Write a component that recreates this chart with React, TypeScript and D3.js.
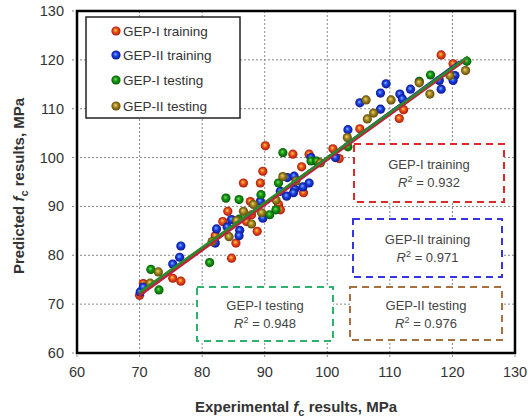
import React from 'react';
import * as d3 from 'd3';

const xTicks = [60, 70, 80, 90, 100, 110, 120, 130];
const yTicks = [60, 70, 80, 90, 100, 110, 120, 130];

// GEP-I training
const gep1TrainX = [70.0, 70.6, 75.3, 76.6, 84.7, 85.4, 82.1, 88.8, 84.1, 87.7, 92.2, 92.5, 86.6, 89.3, 89.7, 90.1, 94.5, 97.1, 100.9, 95.9, 101.9, 105.2, 112.2, 111.5, 118.2, 120.1, 83.3, 87.1, 87.9, 96.2];
const gep1TrainY = [71.8, 74.2, 75.3, 74.7, 79.4, 82.5, 84.0, 84.9, 89.0, 91.0, 90.4, 89.3, 94.8, 94.8, 97.2, 102.4, 100.7, 100.7, 101.8, 98.1, 99.8, 105.9, 109.8, 108.0, 121.0, 119.2, 86.9, 86.9, 88.3, 92.8];
// GEP-II training
const gep2TrainX = [70.1, 70.6, 75.3, 76.4, 76.6, 82.1, 82.3, 84.0, 86.0, 85.9, 84.7, 89.3, 89.7, 92.5, 93.5, 93.6, 94.7, 94.8, 96.1, 97.1, 94.6, 97.4, 101.3, 103.3, 105.2, 108.5, 109.4, 111.6, 112.0, 108.5, 113.3, 117.9, 118.2, 120.4, 120.1];
const gep2TrainY = [72.5, 73.5, 78.2, 79.6, 81.9, 82.5, 85.4, 85.8, 85.1, 84.0, 87.3, 91.0, 87.6, 93.1, 92.1, 95.9, 96.2, 93.5, 94.0, 94.8, 92.8, 100.0, 100.0, 105.7, 111.2, 113.2, 115.1, 113.0, 112.0, 109.9, 114.0, 115.8, 114.0, 116.8, 115.8];
// GEP-I testing
const gep1TestX = [71.8, 73.1, 81.2, 83.8, 85.9, 89.4, 91.8, 90.8, 85.9, 92.9, 97.4, 98.3, 92.2, 103.3, 114.7, 116.5, 122.3];
const gep1TestY = [77.1, 72.9, 78.5, 91.7, 91.4, 92.4, 89.3, 88.3, 87.4, 101.0, 99.3, 99.3, 94.8, 102.2, 115.6, 116.9, 119.7];
// GEP-II testing
const gep2TestX = [71.7, 73.0, 81.6, 84.3, 85.5, 86.6, 87.9, 88.2, 89.5, 91.8, 92.9, 95.0, 98.9, 103.2, 106.2, 107.4, 106.4, 110.2, 114.7, 116.4, 119.6, 122.1];
const gep2TestY = [74.3, 76.6, 82.8, 83.8, 87.1, 89.0, 86.4, 90.4, 88.7, 91.3, 96.1, 95.2, 98.9, 104.1, 111.8, 109.1, 107.9, 111.8, 115.3, 113.0, 116.8, 117.8];

// trend lines [x0, x1], [y0, y1]
const fitRedX = [69.9, 122.0];
const fitRedY = [71.7, 119.9];
const fitBlueX = [70.0, 121.2];
const fitBlueY = [72.0, 119.7];
const fitBrownX = [70.0, 122.2];
const fitBrownY = [72.1, 120.3];
const fitGreenX = [69.9, 122.5];
const fitGreenY = [72.3, 120.7];

const legendLabels = ['GEP-I training', 'GEP-II training', 'GEP-I testing', 'GEP-II testing'];
const boxTitles = ['GEP-I training', 'GEP-II training', 'GEP-I testing', 'GEP-II testing'];
const boxR2 = ['0.932', '0.971', '0.948', '0.976'];

const FONT = '"Liberation Sans", Arial, sans-serif';

const gradients = [
  { id: 'gRed', c0: '#ffd24a', c1: '#e8561c', c2: '#b0140a' },
  { id: 'gBlue', c0: '#7cc0ff', c1: '#1f40e6', c2: '#0a1690' },
  { id: 'gGreen', c0: '#7fe060', c1: '#149a14', c2: '#075a07' },
  { id: 'gBrown', c0: '#f0d870', c1: '#a88a22', c2: '#5e4808' },
];

export default function App() {
  const W = 528, H = 420;
  const x = d3.scaleLinear().domain([60, 130]).range([77, 515]);
  const y = d3.scaleLinear().domain([60, 130]).range([353, 11]);

  const seriesList = [
    { xs: gep1TrainX, ys: gep1TrainY, grad: 'gRed' },
    { xs: gep2TrainX, ys: gep2TrainY, grad: 'gBlue' },
    { xs: gep1TestX, ys: gep1TestY, grad: 'gGreen' },
    { xs: gep2TestX, ys: gep2TestY, grad: 'gBrown' },
  ];
  const fits = [
    { xs: fitBlueX, ys: fitBlueY, color: '#2030c0' },
    { xs: fitBrownX, ys: fitBrownY, color: '#8a6a20' },
    { xs: fitRedX, ys: fitRedY, color: '#c02040' },
    { xs: fitGreenX, ys: fitGreenY, color: '#2a8a2a' },
  ];
  const line = d3.line<[number, number]>().x(d => x(d[0])).y(d => y(d[1]));

  const boxes = [
    { x0: 354, y0: 144, x1: 504, y1: 202, color: '#e02828' },
    { x0: 353, y0: 219, x1: 502, y1: 277, color: '#3434e0' },
    { x0: 197, y0: 287, x1: 333, y1: 341, color: '#2db36b' },
    { x0: 350, y0: 287, x1: 502, y1: 340, color: '#a8703c' },
  ];

  const [x0, x1] = x.range();
  const [y0, y1] = y.range();

  return (
    <svg width={W} height={H} style={{ position: 'absolute', left: 0, top: 0, background: '#fff' }} fontFamily={FONT}>
      <defs>
        {gradients.map(g => (
          <radialGradient key={g.id} id={g.id} cx="50%" cy="50%" r="50%" fx="42%" fy="38%">
            <stop offset="0%" stopColor={g.c0} />
            <stop offset="45%" stopColor={g.c1} />
            <stop offset="100%" stopColor={g.c2} />
          </radialGradient>
        ))}
      </defs>
      <rect x={0} y={0} width={W} height={H} fill="#fff" />
      {/* grid */}
      {xTicks.map(t => (
        <line key={'gx' + t} x1={x(t)} x2={x(t)} y1={y1} y2={y0 + 5} stroke="#888" strokeWidth={1} strokeDasharray="2,2" />
      ))}
      {yTicks.map(t => (
        <line key={'gy' + t} x1={x0 - 5} x2={x1} y1={y(t)} y2={y(t)} stroke="#888" strokeWidth={1} strokeDasharray="2,2" />
      ))}
      {/* points */}
      {seriesList.map((s, si) =>
        s.xs.map((xv, i) => (
          <circle key={si + '-' + i} cx={x(xv)} cy={y(s.ys[i])} r={4.6} fill={`url(#${s.grad})`} />
        ))
      )}
      {/* fit lines */}
      {fits.map((f, i) => (
        <path key={'f' + i} d={line(f.xs.map((xv, j) => [xv, f.ys[j]] as [number, number])) || ''} stroke={f.color} strokeWidth={2.6} fill="none" />
      ))}
      {/* frame */}
      <rect x={x0} y={y1} width={x1 - x0} height={y0 - y1} fill="none" stroke="#000" strokeWidth={2.5} />
      {/* tick labels */}
      {xTicks.map(t => (
        <text key={'tx' + t} x={x(t)} y={377} textAnchor="middle" fontSize={14.5} fill="#333">{t}</text>
      ))}
      {yTicks.map(t => (
        <text key={'ty' + t} x={64} y={y(t) + 5} textAnchor="end" fontSize={14.5} fill="#333">{t}</text>
      ))}
      {/* axis titles */}
      <text x={296} y={412} textAnchor="middle" fontSize={15} fontWeight="bold" fill="#333">
        Experimental <tspan fontStyle="italic">f</tspan><tspan fontSize={11} dy={4}>c</tspan><tspan dy={-4}> results, MPa</tspan>
      </text>
      <text transform="translate(24,186) rotate(-90)" textAnchor="middle" fontSize={15} fontWeight="bold" fill="#333">
        Predicted <tspan fontStyle="italic">f</tspan><tspan fontSize={11} dy={4}>c</tspan><tspan dy={-4}> results, MPa</tspan>
      </text>
      {/* legend */}
      <rect x={86} y={17} width={154} height={101} fill="#fff" stroke="#222" strokeWidth={1.5} />
      {legendLabels.map((lab, i) => {
        const ly = [31, 55, 80, 106][i];
        return (
          <g key={'lg' + i}>
            <circle cx={116} cy={ly} r={4.6} fill={`url(#${gradients[i].id})`} />
            <text x={123} y={ly + 5} fontSize={13.5} fill="#333">{lab}</text>
          </g>
        );
      })}
      {/* annotation boxes */}
      {boxes.map((b, i) => {
        const cx = (b.x0 + b.x1) / 2;
        const cy = (b.y0 + b.y1) / 2;
        return (
          <g key={'bx' + i}>
            <rect x={b.x0} y={b.y0} width={b.x1 - b.x0} height={b.y1 - b.y0} fill="#fff" stroke={b.color} strokeWidth={2} strokeDasharray="7,5" />
            <text x={cx} y={cy - 4} textAnchor="middle" fontSize={13} fill="#444">{boxTitles[i]}</text>
            <text x={cx} y={cy + 14} textAnchor="middle" fontSize={13} fill="#444">
              <tspan fontStyle="italic">R</tspan><tspan fontSize={9} dy={-5}>2</tspan><tspan dy={5}> = {boxR2[i]}</tspan>
            </text>
          </g>
        );
      })}
    </svg>
  );
}
